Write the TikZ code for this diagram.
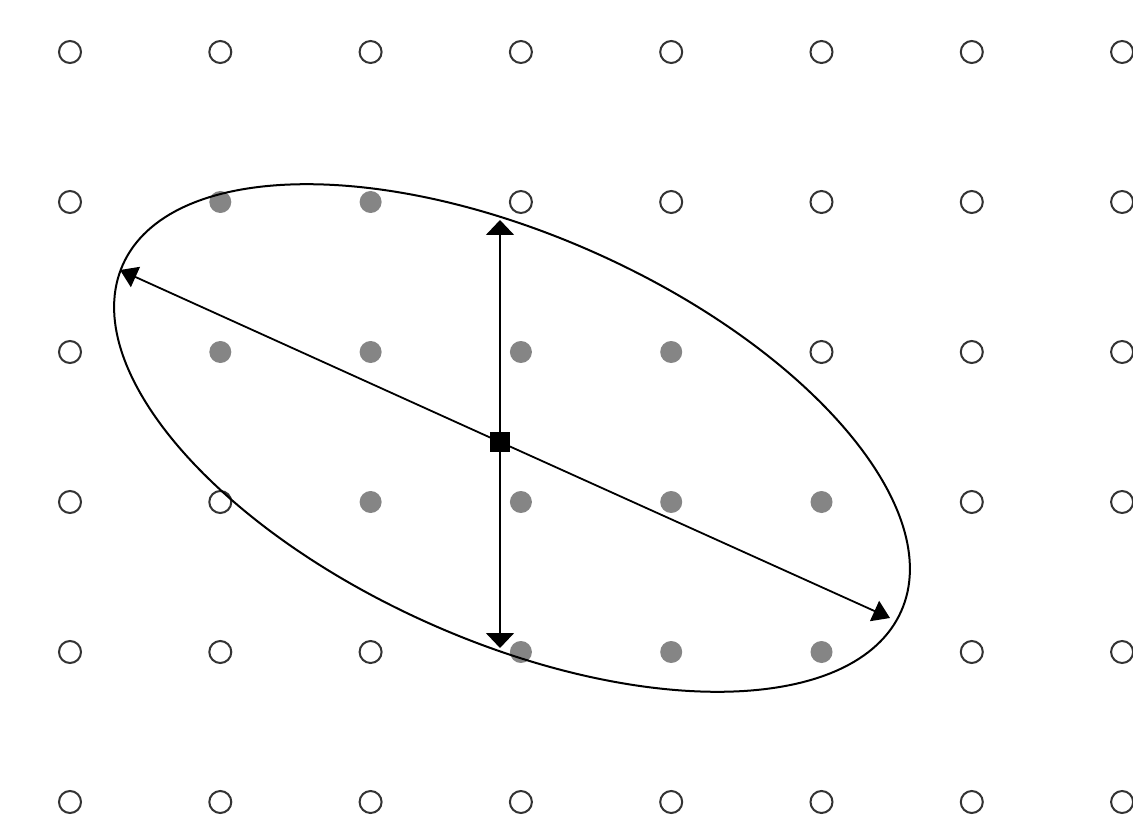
\documentclass[tikz,border=0pt]{standalone}
\usetikzlibrary{arrows.meta}
\begin{document}
\begin{tikzpicture}[x=1pt,y=-1pt,
  opendot/.style={circle,draw=black!80,line width=2pt,minimum size=22pt,inner sep=0pt,fill=white},
  greydot/.style={circle,fill=black!48,minimum size=22pt,inner sep=0pt},
  axisline/.style={line width=1.8pt,black},
  vtip/.style={-{Triangle[length=15pt,width=28pt]}},
  dtip/.style={-{Triangle[length=17pt,width=22pt]}}]
\useasboundingbox (0,0) rectangle (1133,829);
\fill[white] (0,0) rectangle (1133,829);
\foreach \r/\lo/\hi in {0/9/-1,1/1/2,2/1/4,3/2/5,4/3/5,5/9/-1}{
  \foreach \c in {0,...,7}{
    \pgfmathtruncatemacro\g{(\c>=\lo)&&(\c<=\hi)}
    \pgfmathsetmacro\px{70+150.3*\c}
    \pgfmathsetmacro\py{52+150*\r}
    \ifnum\g=1
      \node[greydot] (d-\c-\r) at (\px,\py) {};
    \else
      \node[opendot] (d-\c-\r) at (\px,\py) {};
    \fi
  }
}
\draw[line width=2pt,rotate around={-24:(512,438)}] (512,438) ellipse [x radius=426, y radius=203];
\node[fill=black,minimum size=20pt,inner sep=0pt] (sq) at (500,442) {};
\coordinate (top) at (500,220);
\coordinate (bot) at (500,648);
\coordinate (left) at (120,270);
\coordinate (right) at (890,618);
\draw[axisline,vtip] (sq.center) -- (top);
\draw[axisline,vtip] (sq.center) -- (bot);
\draw[axisline,dtip] (sq.center) -- (left);
\draw[axisline,dtip] (sq.center) -- (right);
\end{tikzpicture}
\end{document}
